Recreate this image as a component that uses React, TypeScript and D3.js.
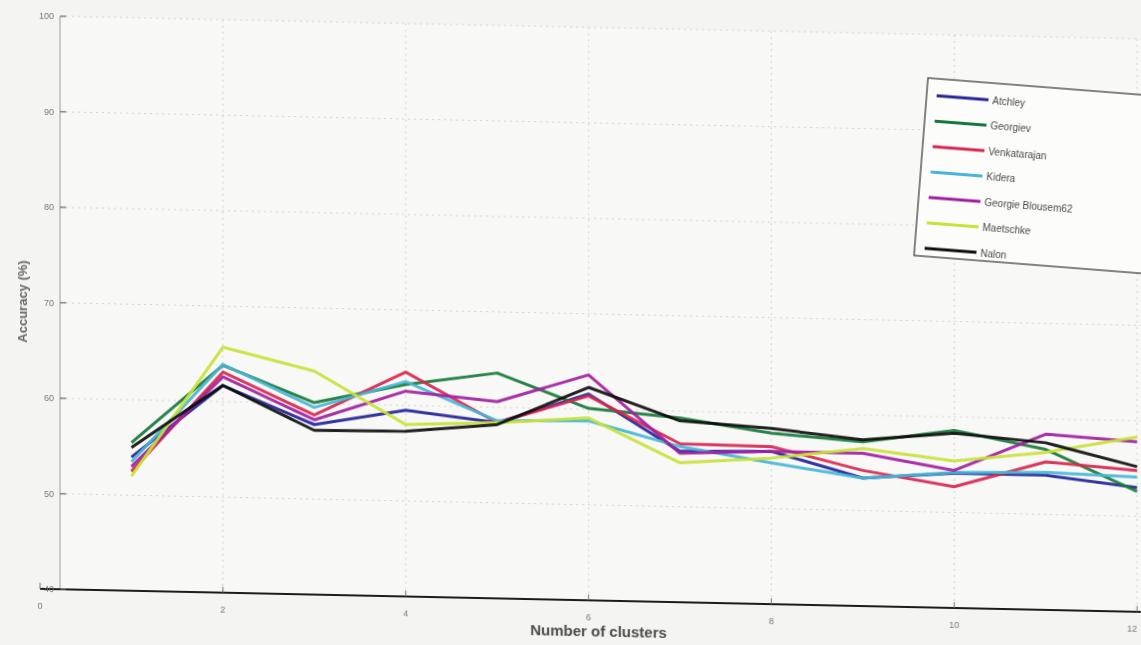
import React from "react";
import * as d3 from "d3";

const clusters = [1, 2, 3, 4, 5, 6, 7, 8, 9, 10, 11, 12];
const seriesNames = ["Atchley", "Georgiev", "Venkatarajan", "Kidera", "Georgie Blousem62", "Maetschke", "Nalon"];
const seriesColors = ["#25259a", "#17793a", "#d8264f", "#46b6d6", "#a21fa0", "#c8e236", "#0d0d0d"];
const atchley = [54.0, 61.7, 57.8, 59.5, 58.4, 61.6, 55.8, 56.0, 53.4, 54.1, 54.1, 53.0];
const georgiev = [55.5, 63.8, 60.1, 62.2, 63.6, 60.1, 59.3, 57.9, 57.2, 58.6, 56.8, 52.6];
const venkatarajan = [52.5, 63.1, 58.8, 63.5, 58.4, 61.4, 56.6, 56.5, 54.2, 52.7, 55.5, 54.8];
const kidera = [53.5, 63.9, 59.6, 62.5, 58.6, 58.8, 56.3, 54.8, 53.4, 54.2, 54.4, 54.1];
const georgieBlousem = [53.0, 62.6, 58.3, 61.5, 60.6, 63.6, 55.6, 56.0, 56.0, 54.4, 58.4, 57.8];
const maetschke = [52.0, 65.7, 63.4, 58.0, 58.4, 59.1, 54.6, 55.3, 56.5, 55.4, 56.5, 58.3];
const nalon = [55.0, 61.7, 57.2, 57.3, 58.2, 62.3, 59.0, 58.4, 57.4, 58.3, 57.5, 55.2];
const seriesValues = [atchley, georgiev, venkatarajan, kidera, georgieBlousem, maetschke, nalon];
const yTicks = [40, 50, 60, 70, 80, 90, 100];
const xTicks = [0, 2, 4, 6, 8, 10, 12];

const W = 1141;
const H = 645;

export default function App() {
  const x = d3.scaleLinear().domain([0, 12]).range([40, 1137]);
  const y = d3.scaleLinear().domain([40, 100]).range([588, 15]);
  const line = d3
    .line<number>()
    .x((_, i) => x(clusters[i]))
    .y((d) => y(d));
  const axisX = 60;

  return (
    <svg width={W} height={H} style={{ position: "absolute", left: 0, top: 0, background: "#f4f4f2" }}>
      <defs>
        <filter id="blur" x="-5%" y="-5%" width="110%" height="110%">
          <feGaussianBlur stdDeviation="0.7" />
        </filter>
      </defs>
      <rect x={0} y={0} width={W} height={H} fill="#f4f4f2" />
      <g transform="skewY(1.2)" filter="url(#blur)">
        <rect x={axisX} y={y(100)} width={W - axisX} height={y(40) - y(100)} fill="#f8f8f7" />
        {yTicks.map((t) => (
          <line key={"gy" + t} x1={axisX} x2={W} y1={y(t)} y2={y(t)} stroke="#d2d2d2" strokeWidth={1} strokeDasharray="2,4" />
        ))}
        {xTicks.filter((t) => t > 0).map((t) => (
          <line key={"gx" + t} x1={x(t)} x2={x(t)} y1={y(100)} y2={y(40)} stroke="#d2d2d2" strokeWidth={1} strokeDasharray="2,4" />
        ))}
        <line x1={axisX} x2={axisX} y1={y(100)} y2={y(40)} stroke="#9a9a9a" strokeWidth={1} />
        <line x1={x(0)} x2={W} y1={y(40)} y2={y(40)} stroke="#1a1a1a" strokeWidth={2.2} />
        {yTicks.map((t) => (
          <g key={"ty" + t}>
            <line x1={axisX} x2={axisX + 6} y1={y(t)} y2={y(t)} stroke="#666" strokeWidth={1.2} />
            <text x={axisX - 6} y={y(t)} dy="0.35em" textAnchor="end" fontSize={9} fill="#7a7a7a" fontFamily="Liberation Sans, Arial, sans-serif">
              {t}
            </text>
          </g>
        ))}
        {xTicks.map((t, i) => (
          <g key={"tx" + t}>
            <line x1={x(t)} x2={x(t)} y1={y(40)} y2={y(40) - 6} stroke="#777" strokeWidth={1} />
            <text
              x={x(t)}
              y={y(40) + 20}
              textAnchor={i === xTicks.length - 1 ? "end" : "middle"}
              fontSize={9}
              fill="#7a7a7a"
              fontFamily="Liberation Sans, Arial, sans-serif"
            >
              {t}
            </text>
          </g>
        ))}
        {seriesValues.map((vals, i) => (
          <path key={seriesNames[i]} d={line(vals) || ""} fill="none" stroke={seriesColors[i]} strokeWidth={3} strokeLinejoin="round" opacity={0.92} />
        ))}
        <text x={x(6) + 10} y={y(40) + 36} textAnchor="middle" fontSize={15} fontWeight="bold" fill="#4a4a4a" fontFamily="Liberation Sans, Arial, sans-serif">
          Number of clusters
        </text>
      </g>
      <text
        transform={`translate(27, ${(y(40) + y(100)) / 2}) rotate(-90)`}
        textAnchor="middle"
        fontSize={13}
        fontWeight="bold"
        fill="#666"
        fontFamily="Liberation Sans, Arial, sans-serif"
        filter="url(#blur)"
      >
        Accuracy (%)
      </text>
      <g transform="translate(928, 78) rotate(4.5)" filter="url(#blur)">
        <rect x={0} y={0} width={230} height={178} fill="#fcfcfb" stroke="#444" strokeWidth={1.3} />
        {seriesNames.map((name, i) => (
          <g key={"lg" + name} transform={`translate(0, ${17 + i * 25.5})`}>
            <line x1={10} x2={62} y1={0} y2={0} stroke={seriesColors[i]} strokeWidth={3.2} />
            <text x={66} y={0} dy="0.35em" fontSize={10} fill="#4a4a4a" fontFamily="Liberation Sans, Arial, sans-serif">
              {name}
            </text>
          </g>
        ))}
      </g>
    </svg>
  );
}
